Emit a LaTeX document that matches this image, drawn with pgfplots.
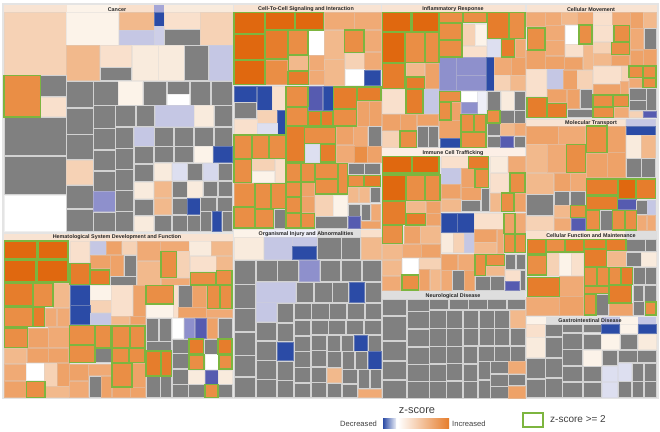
\documentclass[border=0pt]{standalone}
\usepackage{pgfplots}
\usepackage{fontspec}
\setmainfont{Liberation Sans}
\pgfplotsset{compat=1.18}
\definecolor{o1}{HTML}{E0680F}\definecolor{o2}{HTML}{E67D2C}\definecolor{o3}{HTML}{EA8E45}
\definecolor{o4}{HTML}{EEA268}\definecolor{oa}{HTML}{F0AA75}\definecolor{o5}{HTML}{F2B98C}
\definecolor{o6}{HTML}{F6D2B5}\definecolor{o7}{HTML}{F9E0CC}\definecolor{o8}{HTML}{FCF3E9}
\definecolor{c1}{HTML}{F9EBDD}\definecolor{gr}{HTML}{808080}
\definecolor{b1}{HTML}{2B4BA6}\definecolor{b2}{HTML}{565BB0}\definecolor{b3}{HTML}{8E90CC}
\definecolor{b4}{HTML}{C5C7E4}\definecolor{b5}{HTML}{DDDFF0}
\definecolor{gap}{HTML}{D2D2D2}\definecolor{grn}{HTML}{7DB53F}\definecolor{hd}{HTML}{DEDEDE}
\definecolor{hp}{HTML}{F8E3D2}
\def\R#1#2#3#4#5{\addplot[fill=#5,draw=#5!65!gap,line width=.5pt] coordinates {(#1,#2)(#3,#2)(#3,#4)(#1,#4)} --cycle;}
\def\K#1#2#3#4{\addplot[fill=gr,draw=gap,line width=.6pt] coordinates {(#1,#2)(#3,#2)(#3,#4)(#1,#4)} --cycle;}
\def\G#1#2#3#4#5{\addplot[fill=#5,draw=grn,line width=1.3pt] coordinates {(#1,#2)(#3,#2)(#3,#4)(#1,#4)} --cycle;}
\def\H#1#2#3#4#5{\addplot[fill=#5,draw=none] coordinates {(#1,#2)(#3,#2)(#3,#4)(#1,#4)} --cycle;}
\pgfplotsset{base/.style={width=660pt,height=431pt,scale only axis,hide axis,y dir=reverse,at={(0,0)},anchor=south west,clip=false},
 panel/.style n args={4}{base,xmin=#1,xmax=#2,ymin=#3,ymax=#4}}
\begin{document}
\begin{tikzpicture}
\begin{axis}[panel={0}{660}{0}{431}]
\H{0}{0}{660}{431}{white}
\H{2}{3}{659}{399}{gap!60!white}
\end{axis}
% Cancer
\begin{axis}[panel={0}{1980}{0}{1293}]
\H{12}{14}{200}{37}{hp}\H{200}{14}{357}{37}{o8}\H{357}{14}{462}{37}{o7}\H{462}{14}{492}{37}{b3!80!white}\H{492}{14}{698}{37}{c1}
\R{12}{37}{200}{226}{o6}\R{200}{37}{356}{136}{o8}\R{357}{37}{462}{91}{o5}\R{462}{37}{492}{78}{b1}\R{357}{91}{464}{136}{b4}\R{464}{78}{493}{136}{b4!85!white}
\R{493}{37}{600}{89}{o7}\K{493}{89}{600}{136}\R{600}{37}{698}{136}{o6}\R{200}{137}{299}{241}{o5}\R{300}{137}{395}{202}{o7}\K{300}{202}{395}{241}
\R{397}{137}{475}{241}{c1}\R{476}{137}{553}{241}{c1}\K{554}{137}{626}{241}\R{627}{137}{698}{241}{b4}
\K{122}{227}{198}{289}\R{122}{291}{198}{350}{o7}\K{12}{352}{198}{467}\K{12}{469}{198}{584}\R{12}{586}{198}{694}{white}
\K{200}{243}{279}{323}\K{200}{325}{279}{402}\K{200}{404}{279}{478}\R{200}{480}{279}{553}{o6}\K{200}{555}{279}{625}\K{200}{627}{279}{694}
\K{281}{243}{354}{315}\K{281}{317}{345}{384}\K{281}{386}{345}{449}\K{281}{451}{345}{512}\K{281}{514}{345}{573}\R{281}{575}{345}{635}{b3}\K{281}{637}{345}{694}
\R{355}{243}{428}{315}{o8}\K{430}{243}{499}{315}\K{501}{243}{568}{282}\R{501}{283}{568}{315}{white}\K{570}{243}{632}{315}\K{634}{243}{696}{315}
\K{347}{317}{406}{380}\K{408}{317}{463}{380}\R{465}{317}{582}{380}{b4}\R{584}{317}{640}{380}{c1}\K{642}{317}{696}{380}
\K{347}{382}{401}{444}\R{402}{382}{462}{438}{b4}\K{464}{382}{521}{438}\K{523}{382}{580}{438}\K{582}{382}{640}{438}\K{642}{382}{696}{438}
\K{347}{446}{401}{507}\K{403}{440}{461}{491}\K{463}{440}{521}{487}\K{523}{440}{580}{487}\R{582}{440}{637}{487}{o8}\R{639}{440}{696}{487}{b1}
\K{347}{509}{401}{570}\K{403}{493}{461}{544}\R{463}{489}{514}{541}{c1}\R{516}{489}{561}{541}{b5}\K{563}{489}{608}{541}\R{610}{489}{654}{541}{b4!70!white}\K{656}{489}{696}{541}
\K{347}{572}{401}{633}\R{403}{546}{461}{596}{c1}\R{463}{543}{514}{592}{o5}\K{516}{543}{561}{592}\R{563}{543}{608}{592}{c1}\K{610}{543}{652}{590}\K{654}{543}{696}{590}
\K{347}{635}{401}{694}\K{403}{598}{461}{646}\R{463}{594}{514}{643}{o5}\K{516}{594}{561}{643}\R{563}{594}{600}{643}{b1}\K{602}{592}{650}{633}\K{652}{592}{696}{633}
\R{403}{648}{461}{694}{c1}\K{463}{645}{514}{694}\K{516}{645}{561}{694}\K{563}{645}{600}{694}\K{602}{635}{634}{694}\R{636}{635}{665}{694}{b1}\K{667}{635}{696}{694}
\G{12}{227}{122}{351}{o3}
\end{axis}
% Cell-to-cell
\begin{axis}[panel={-690}{1290}{0}{1293}]
\H{12}{14}{454}{37}{hp}
\R{284}{37}{372}{88}{oa}\R{372}{37}{454}{88}{oa}\R{234}{92}{282}{165}{white}\R{284}{90}{344}{178}{o5}\R{404}{90}{454}{155}{oa}\R{237}{165}{282}{210}{oa}
\R{284}{178}{344}{256}{o5}\R{345}{160}{402}{207}{o6}\R{404}{157}{454}{208}{oa}\R{345}{207}{402}{256}{white}\R{403}{210}{452}{256}{b1}\R{107}{180}{172}{254}{o3}\R{237}{210}{282}{254}{oa}
\R{12}{260}{80}{306}{b1}\R{81}{260}{127}{331}{b1}\R{128}{260}{167}{331}{o7}\K{12}{307}{80}{356}\R{81}{331}{142}{370}{o6}\R{143}{331}{166}{402}{b1}\R{12}{357}{81}{402}{o7}\R{82}{371}{142}{402}{b5}
\R{234}{260}{278}{332}{b2}\R{279}{260}{309}{332}{b1}\R{383}{303}{418}{378}{o4}\R{419}{303}{453}{378}{o4}
\R{225}{434}{269}{486}{b5}\R{318}{380}{370}{434}{o4}\R{371}{380}{413}{440}{oa}\K{414}{380}{453}{440}\R{318}{435}{372}{486}{oa}\R{373}{440}{412}{486}{o3}\R{413}{440}{453}{486}{o4}
\R{66}{477}{134}{512}{o6}\R{66}{513}{134}{547}{o8}\R{135}{477}{166}{547}{o7}\R{12}{550}{73}{619}{o3}\K{133}{629}{166}{684}
\R{215}{548}{254}{590}{o4}\R{215}{590}{254}{638}{o4}\R{256}{585}{310}{649}{o6}\R{311}{585}{352}{649}{o8}\K{256}{650}{352}{684}
\K{354}{490}{402}{523}\K{404}{490}{452}{523}\R{354}{563}{386}{608}{o5}\R{387}{563}{419}{608}{o5}\K{420}{563}{452}{608}
\K{354}{612}{392}{648}\K{394}{612}{422}{662}\R{423}{612}{452}{662}{oa}\R{354}{650}{392}{684}{b2}\R{394}{664}{452}{684}{o4}
\G{12}{37}{105}{100}{o1}\G{107}{37}{193}{90}{o1}\G{195}{37}{281}{90}{o1}\G{12}{102}{105}{180}{o1}\G{107}{92}{172}{177}{o2}\G{176}{92}{234}{165}{o3}\G{344}{90}{402}{157}{o3}
\G{176}{167}{236}{212}{o5}\G{12}{182}{105}{254}{o1}\G{174}{214}{236}{254}{o2}
\G{168}{260}{234}{319}{o3}\G{168}{321}{232}{378}{o3}\G{234}{334}{273}{378}{o2}\G{275}{334}{309}{378}{o2}\G{311}{261}{380}{325}{o2}\G{382}{261}{453}{301}{o2}\G{311}{327}{380}{378}{o3}
\G{168}{380}{224}{486}{o2}\G{224}{382}{316}{430}{o3}\G{271}{432}{316}{486}{o2}
\G{12}{405}{64}{475}{o3}\G{66}{405}{117}{475}{o3}\G{118}{405}{166}{475}{o3}\G{12}{477}{65}{547}{o3}
\G{75}{550}{122}{625}{o3}\G{124}{550}{166}{625}{o3}\G{12}{621}{73}{684}{o3}\G{75}{629}{131}{684}{o3}
\G{168}{490}{213}{546}{o3}\G{215}{490}{254}{546}{o3}\G{256}{490}{323}{535}{o3}\G{325}{490}{352}{582}{o3}\G{256}{537}{323}{582}{o3}
\G{168}{548}{213}{590}{o3}\G{168}{592}{213}{638}{o3}\G{168}{640}{211}{684}{o3}\G{213}{640}{254}{684}{o3}
\G{354}{527}{402}{560}{o3}\G{404}{527}{452}{560}{o2}
\end{axis}
% Inflammatory
\begin{axis}[panel={-1140}{840}{0}{1293}]
\H{6}{14}{436}{37}{hp}
\R{248}{72}{285}{137}{o6}\R{286}{72}{320}{137}{o8}\R{248}{138}{320}{171}{o7}\R{322}{118}{362}{171}{b5}\R{406}{118}{436}{171}{oa}
\R{78}{190}{134}{228}{o5}\R{135}{190}{177}{265}{o4}\R{178}{173}{229}{270}{b3}\R{229}{173}{318}{225}{b3}\R{229}{225}{318}{272}{b3}\R{318}{173}{342}{272}{b1}
\R{344}{173}{394}{226}{oa}\R{394}{173}{436}{226}{o4}\R{344}{226}{392}{272}{o6}\R{392}{226}{436}{272}{o5}
\R{8}{268}{76}{340}{o7}\R{131}{268}{176}{340}{b4}\R{215}{307}{241}{360}{o4}\R{243}{275}{292}{307}{white}\R{292}{275}{320}{340}{b5!50!white}\R{243}{308}{292}{340}{b3}
\K{322}{275}{362}{330}\R{363}{275}{403}{330}{c1}\K{404}{275}{436}{330}
\R{8}{342}{60}{392}{o4}\R{61}{342}{110}{392}{o4}\R{111}{342}{176}{377}{o4}\R{8}{393}{58}{443}{o6}\K{112}{378}{144}{443}\K{146}{378}{176}{443}
\R{178}{362}{241}{414}{o4}\R{180}{416}{241}{443}{b1}\K{362}{332}{402}{369}\K{403}{332}{436}{369}\K{322}{371}{360}{405}\R{362}{371}{402}{407}{o5}\R{403}{371}{436}{407}{oa}
\K{322}{408}{360}{443}\R{362}{408}{400}{443}{b2}\K{402}{408}{436}{443}
\G{8}{37}{93}{95}{o1}\G{97}{37}{176}{95}{o1}\G{178}{37}{248}{67}{o3}\G{250}{37}{320}{67}{o3}\G{8}{98}{74}{187}{o1}\G{76}{98}{133}{187}{o3}\G{135}{98}{177}{187}{o3}
\G{178}{70}{246}{120}{o3}\G{178}{122}{246}{171}{o3}\G{322}{37}{385}{115}{o2}\G{387}{37}{435}{115}{o3}\G{364}{118}{404}{171}{o2}
\G{8}{190}{75}{265}{o2}\G{78}{231}{134}{265}{o2}\G{78}{268}{129}{340}{o2}\G{178}{275}{241}{305}{o3}\G{178}{307}{213}{360}{o3}
\G{60}{393}{110}{443}{o3}\G{243}{343}{281}{396}{o3}\G{283}{343}{318}{396}{o3}\G{243}{398}{318}{443}{o3}\G{322}{332}{360}{369}{o3}
\end{axis}
% Cellular movement, molecular transport
\begin{axis}[panel={-1575}{405}{0}{1293}]
\H{5}{14}{395}{37}{hp}
\R{5}{37}{60}{80}{oa}\R{60}{37}{108}{75}{oa}\R{108}{37}{158}{72}{o5}\R{158}{37}{204}{72}{oa}\R{206}{37}{262}{75}{o7}\R{262}{37}{316}{75}{oa}\R{316}{37}{355}{85}{o4}\R{356}{37}{393}{85}{o5}
\R{62}{77}{118}{120}{oa}\R{62}{120}{118}{167}{oa}\R{120}{75}{160}{132}{white}\R{120}{133}{174}{170}{o7}\R{174}{135}{204}{207}{o5}\R{206}{77}{263}{125}{o7}\R{206}{126}{256}{160}{o6}\R{206}{161}{258}{196}{o5}\R{260}{165}{313}{196}{o4}
\R{316}{85}{355}{148}{oa}\K{357}{85}{393}{147}\R{316}{150}{355}{196}{o4}\R{356}{148}{393}{196}{o4}\R{5}{152}{60}{207}{o4}\R{60}{168}{118}{207}{o4}\R{119}{172}{173}{207}{o4}
\R{5}{209}{65}{290}{o7}\R{66}{209}{114}{267}{b4}\R{115}{210}{157}{267}{o4}\R{158}{210}{203}{267}{o6}\R{205}{198}{288}{250}{o7}\R{289}{198}{310}{250}{o6}\R{205}{252}{286}{282}{o4}\R{287}{245}{311}{282}{oa}
\R{312}{234}{352}{262}{oa}\R{66}{269}{125}{308}{o4}\R{126}{269}{164}{326}{o4}\K{165}{269}{203}{326}\K{127}{327}{203}{352}\R{267}{322}{310}{352}{oa}
\K{312}{264}{363}{301}\K{365}{264}{393}{332}\K{312}{302}{363}{332}\R{312}{334}{353}{352}{o6}\R{355}{334}{393}{352}{b2}
\R{5}{357}{302}{378}{hp}\R{303}{357}{392}{378}{b4}\R{303}{378}{392}{405}{b1}
\R{5}{378}{100}{432}{o4}\R{100}{378}{182}{432}{oa}\R{248}{378}{302}{457}{o4}\R{303}{407}{349}{474}{c1}\R{349}{407}{392}{474}{o5}
\R{5}{433}{67}{518}{o5}\R{68}{433}{124}{518}{oa}\R{184}{459}{247}{533}{o4}\R{247}{457}{302}{533}{o4}\K{303}{476}{349}{533}\K{350}{476}{392}{533}
\R{5}{520}{86}{582}{o5}\R{87}{520}{135}{573}{o4}\R{135}{520}{183}{573}{oa}\R{277}{597}{333}{628}{b2}\K{335}{601}{367}{643}\R{368}{601}{392}{643}{b4}
\K{5}{584}{85}{646}\K{87}{575}{134}{615}\K{135}{575}{182}{615}\R{87}{617}{135}{652}{o5}\R{5}{648}{85}{690}{o6}\R{87}{654}{137}{690}{oa}\R{139}{654}{182}{690}{b2}
\K{225}{632}{262}{690}\R{336}{645}{365}{690}{oa}\R{366}{645}{392}{690}{oa}
\G{8}{84}{60}{150}{o3}\G{162}{75}{201}{132}{o3}\G{267}{76}{313}{125}{o3}\G{259}{127}{313}{163}{o3}\G{312}{198}{354}{232}{o3}\G{356}{198}{393}{232}{o3}\G{354}{234}{393}{262}{o3}
\G{6}{292}{66}{352}{o2}\G{67}{310}{125}{352}{o2}\G{204}{285}{263}{320}{o3}\G{265}{285}{310}{320}{o3}\G{204}{322}{265}{352}{o3}
\G{184}{378}{246}{457}{o3}\G{125}{433}{182}{518}{o3}\G{185}{537}{277}{585}{o2}\G{279}{537}{333}{595}{o1}\G{335}{537}{392}{595}{o2}\G{185}{588}{277}{628}{o2}\G{137}{617}{182}{652}{o3}
\G{184}{632}{224}{690}{o3}\G{263}{632}{298}{690}{o3}\G{300}{632}{334}{690}{o3}
\end{axis}
% Immune
\begin{axis}[panel={-1140}{840}{-435}{858}]
\H{6}{10}{436}{35}{o7!50!white}
\R{183}{35}{264}{70}{o7}\R{330}{35}{382}{82}{c1}\R{384}{35}{436}{82}{oa}\R{183}{71}{242}{117}{b4}\R{243}{71}{283}{127}{o4}\R{183}{118}{242}{160}{o4}\R{243}{127}{303}{165}{o4}\K{303}{129}{328}{200}
\R{183}{162}{243}{200}{o5}\K{244}{166}{302}{200}\R{330}{84}{386}{142}{o7}\R{330}{144}{362}{200}{o5}\R{404}{144}{436}{200}{o4}
\R{80}{170}{137}{204}{o5}\R{138}{170}{180}{204}{o4}\R{140}{206}{180}{240}{o4}\R{183}{205}{232}{262}{b1}\R{233}{205}{282}{262}{b1}\R{284}{205}{370}{252}{o7}\R{406}{205}{436}{265}{oa}
\R{72}{243}{121}{296}{o4}\R{122}{243}{180}{296}{o5}\R{183}{264}{220}{323}{c1}\R{221}{264}{252}{323}{o6}\R{253}{264}{282}{323}{b4}\R{284}{254}{350}{292}{o4}\R{351}{254}{370}{325}{oa}\R{284}{293}{350}{325}{o5}
\R{8}{298}{67}{344}{o5}\R{68}{298}{123}{338}{oa}\R{124}{298}{180}{338}{o4}\R{8}{346}{65}{392}{o5}\R{67}{340}{116}{387}{white}\R{117}{340}{180}{372}{o6}
\R{8}{393}{62}{435}{oa}\R{118}{373}{148}{435}{o4}\R{150}{373}{180}{435}{o5}\R{183}{327}{233}{376}{o4}\R{234}{327}{282}{376}{oa}
\R{183}{377}{217}{435}{oa}\K{218}{377}{252}{435}\R{253}{377}{282}{435}{o4}\R{320}{364}{374}{392}{o5}\K{285}{394}{330}{435}\K{331}{394}{374}{435}
\K{377}{329}{406}{374}\K{408}{329}{436}{374}\R{377}{376}{420}{408}{o7}\K{421}{376}{436}{435}\R{377}{410}{418}{435}{b2}
\G{8}{35}{95}{84}{o1}\G{98}{35}{177}{84}{o1}\G{266}{35}{325}{70}{o2}\G{8}{90}{76}{166}{o1}\G{78}{90}{134}{166}{o3}\G{136}{90}{180}{166}{o3}\G{285}{73}{325}{127}{o3}
\G{390}{84}{435}{142}{o3}\G{365}{144}{402}{200}{o3}\G{8}{169}{76}{238}{o2}\G{78}{206}{137}{240}{o2}\G{372}{205}{405}{265}{o4}\G{8}{242}{68}{296}{o3}
\G{373}{267}{404}{323}{o3}\G{406}{267}{436}{323}{o3}\G{66}{390}{116}{435}{o3}\G{285}{329}{317}{392}{o3}\G{319}{329}{374}{362}{o3}
\end{axis}
% Hematological
\begin{axis}[panel={0}{1980}{-690}{603}]
\H{12}{12}{698}{32}{hp}
\R{210}{33}{269}{97}{o7}\R{270}{33}{318}{74}{b4}\R{319}{33}{365}{74}{o4}\R{366}{33}{408}{74}{o6}\R{270}{75}{330}{115}{o4}\R{331}{75}{370}{138}{o4}\K{372}{75}{408}{138}\K{330}{140}{408}{165}
\R{411}{33}{481}{92}{oa}\R{482}{33}{568}{64}{oa}\R{569}{33}{633}{76}{c1}\R{634}{33}{696}{76}{o5}\R{411}{93}{481}{165}{o5}\R{533}{65}{568}{143}{o6}\R{483}{145}{568}{165}{oa}
\R{570}{78}{648}{124}{o7}\R{649}{78}{696}{120}{o5}\R{161}{160}{207}{232}{o5}
\R{210}{167}{270}{226}{b1}\R{270}{167}{333}{210}{o8}\R{270}{211}{333}{248}{o6}\R{210}{226}{270}{282}{b1}\R{270}{249}{333}{282}{b4}
\R{335}{167}{398}{259}{o7}\R{399}{167}{435}{259}{o4}\R{335}{260}{389}{282}{o5}\R{390}{260}{435}{282}{o4}
\R{438}{224}{520}{262}{o8}\R{521}{167}{535}{262}{o7}\K{536}{167}{577}{231}\R{578}{167}{620}{233}{o4}\R{536}{233}{620}{262}{o4}\R{620}{238}{696}{262}{oa}
\R{136}{234}{170}{290}{oa}\R{171}{234}{207}{290}{oa}\R{84}{294}{145}{352}{o4}\R{146}{292}{207}{352}{oa}
\R{14}{354}{80}{401}{o5}\R{81}{354}{145}{397}{o4}\R{146}{354}{205}{397}{o4}\R{14}{403}{78}{452}{oa}\R{80}{400}{133}{452}{white}\R{134}{400}{171}{468}{o6}\R{172}{400}{207}{468}{o4}
\R{14}{454}{78}{503}{o4}\R{136}{470}{207}{503}{o5}\K{287}{356}{333}{398}
\R{208}{402}{265}{452}{o4}\R{266}{402}{333}{437}{oa}\R{208}{454}{265}{503}{oa}\K{267}{439}{303}{503}\R{304}{439}{333}{503}{o4}
\R{398}{400}{435}{472}{o4}\R{336}{473}{391}{503}{o4}\R{392}{473}{435}{503}{o4}
\K{438}{264}{476}{333}\K{477}{264}{514}{333}\K{438}{334}{514}{361}\K{438}{440}{480}{503}\K{481}{440}{514}{503}
\R{516}{264}{551}{325}{white}\R{552}{264}{584}{325}{b3}\R{585}{264}{620}{325}{b2}\R{621}{264}{653}{325}{o4}\K{655}{264}{696}{325}
\K{516}{327}{565}{369}\K{612}{327}{652}{372}\K{516}{371}{565}{416}\R{616}{374}{655}{418}{white}
\K{516}{418}{565}{462}\R{566}{421}{614}{462}{c1}\R{615}{420}{655}{462}{b2}\R{656}{420}{696}{462}{c1}\K{516}{464}{565}{503}\K{566}{464}{613}{503}\K{656}{464}{696}{503}
\G{14}{33}{111}{87}{o1}\G{115}{33}{204}{87}{o1}\G{14}{92}{108}{156}{o1}\G{112}{92}{204}{156}{o1}\G{210}{100}{270}{163}{o2}\G{272}{120}{328}{163}{o2}
\G{483}{65}{530}{143}{o3}\G{572}{127}{647}{165}{o3}\G{650}{122}{696}{165}{o3}\G{14}{160}{97}{228}{o2}\G{101}{160}{159}{230}{o3}
\G{438}{167}{521}{222}{o3}\G{622}{167}{660}{236}{o3}\G{662}{167}{696}{236}{o3}\G{14}{232}{97}{290}{o3}\G{99}{232}{134}{290}{o2}\G{14}{294}{82}{352}{o3}\G{80}{454}{135}{503}{o3}
\G{208}{286}{284}{343}{o3}\G{286}{286}{333}{354}{o3}\G{336}{288}{389}{352}{o3}\G{391}{288}{435}{352}{o3}\G{208}{346}{285}{398}{o3}\G{336}{354}{387}{398}{o3}\G{389}{354}{435}{398}{o3}
\G{336}{400}{396}{471}{o3}\G{438}{363}{482}{438}{o2}\G{484}{363}{514}{438}{o2}\G{567}{327}{610}{372}{o2}\G{654}{327}{696}{372}{o2}\G{567}{375}{612}{419}{o3}\G{657}{375}{696}{417}{o3}\G{615}{464}{654}{503}{o3}
\end{axis}
% Organismal
\begin{axis}[panel={-690}{1290}{-675}{618}]
\H{12}{14}{100}{37}{o8}\H{100}{14}{262}{37}{b5!50!white}\H{262}{14}{392}{37}{hd}\H{392}{14}{454}{37}{o7}
\R{12}{38}{100}{104}{c1}\R{102}{38}{188}{104}{b4}\R{188}{38}{262}{64}{b4}\R{188}{65}{260}{104}{b1}\K{263}{38}{333}{104}\K{335}{38}{392}{104}\R{394}{38}{454}{104}{o5}
\K{12}{107}{76}{177}\K{78}{107}{141}{169}\K{143}{107}{205}{169}\R{207}{107}{269}{169}{b3}\K{271}{107}{331}{169}\K{333}{107}{394}{169}\K{396}{107}{454}{169}
\K{12}{179}{76}{249}\R{78}{171}{196}{232}{b4}\R{78}{232}{140}{290}{b4}\K{198}{171}{251}{232}\K{253}{171}{306}{232}\K{308}{171}{355}{232}\R{357}{171}{403}{232}{b1}\K{405}{171}{454}{232}
\K{142}{234}{190}{292}\K{192}{234}{243}{283}\K{245}{234}{297}{283}\K{299}{234}{350}{283}\K{352}{234}{403}{283}\K{405}{234}{454}{283}
\K{12}{251}{76}{320}\K{78}{292}{140}{347}\K{142}{294}{190}{350}\K{192}{285}{241}{331}\K{243}{285}{294}{328}\K{296}{285}{346}{328}\K{348}{285}{400}{328}\K{402}{285}{454}{328}
\K{12}{322}{76}{390}\K{78}{349}{140}{405}\R{142}{351}{190}{407}{b1}\K{192}{333}{241}{378}\K{243}{330}{289}{375}\K{291}{330}{331}{378}\K{333}{330}{371}{378}\R{373}{330}{412}{378}{b1}\K{414}{330}{454}{378}
\K{12}{392}{76}{455}\K{78}{407}{140}{462}\K{142}{409}{190}{465}\K{192}{380}{241}{426}\K{243}{377}{289}{424}\K{291}{380}{334}{428}\K{336}{380}{373}{432}\K{375}{380}{413}{432}\R{415}{380}{454}{432}{b1}
\K{12}{457}{76}{518}\K{78}{464}{140}{518}\K{142}{467}{190}{518}\K{192}{428}{241}{473}\K{243}{426}{289}{471}\R{291}{430}{334}{473}{o5}\K{336}{434}{382}{475}\K{384}{434}{418}{490}\K{420}{434}{454}{490}
\K{192}{475}{241}{518}\K{243}{473}{289}{518}\K{291}{475}{334}{518}\K{336}{477}{382}{518}\R{384}{492}{454}{518}{oa}
\end{axis}
% Neurological
\begin{axis}[panel={-1140}{840}{-855}{438}]
\H{6}{18}{436}{42}{hd}
\K{8}{43}{78}{92}\K{81}{43}{147}{78}\K{149}{43}{205}{74}\K{207}{43}{264}{74}\K{266}{43}{321}{74}\K{323}{43}{380}{74}\K{382}{43}{436}{74}
\K{8}{95}{78}{166}\K{81}{80}{147}{131}\K{149}{76}{198}{129}\K{200}{76}{247}{129}\K{249}{76}{295}{129}\K{297}{76}{342}{129}\K{344}{76}{388}{129}\R{390}{76}{436}{129}{o5}
\K{8}{168}{78}{226}\K{81}{134}{147}{185}\K{149}{131}{198}{183}\K{200}{131}{247}{183}\K{249}{131}{295}{181}\K{297}{131}{342}{181}\K{344}{131}{388}{181}\K{390}{131}{436}{181}
\K{8}{228}{78}{284}\K{81}{187}{147}{237}\K{149}{185}{198}{236}\K{200}{185}{247}{234}\K{249}{183}{292}{236}\K{294}{183}{342}{228}\K{344}{183}{390}{228}\K{392}{183}{436}{228}
\K{8}{286}{78}{340}\K{81}{239}{147}{288}\K{149}{238}{198}{288}\K{200}{236}{247}{286}\K{249}{238}{292}{288}\K{294}{230}{330}{283}\K{332}{230}{384}{266}\R{386}{230}{436}{266}{oa}
\K{81}{290}{147}{340}\K{149}{290}{198}{340}\K{200}{288}{247}{340}\K{249}{290}{292}{340}\K{294}{285}{330}{340}\K{332}{268}{384}{303}\K{386}{268}{436}{302}\K{332}{305}{384}{340}\R{386}{304}{436}{340}{o4}
\end{axis}
% Cellular function, GI
\begin{axis}[panel={-1575}{405}{-675}{618}]
\H{5}{18}{65}{42}{o7}\H{65}{18}{300}{42}{c1}\H{300}{18}{395}{42}{hd}
\K{304}{43}{360}{80}\K{361}{43}{393}{80}\R{67}{85}{102}{152}{o6}\R{103}{85}{138}{152}{o8}\R{139}{85}{175}{152}{o7}\R{246}{80}{303}{124}{o5}\K{304}{81}{348}{124}\R{350}{81}{393}{124}{c1}
\R{104}{155}{176}{215}{oa}\K{326}{126}{361}{179}\K{362}{126}{393}{179}\R{5}{218}{103}{270}{oa}\R{104}{215}{176}{270}{o4}\K{214}{207}{250}{270}\R{252}{236}{322}{270}{o4}
\K{324}{181}{356}{228}\K{358}{181}{393}{228}\K{324}{230}{359}{270}
\H{5}{275}{62}{297}{o8}\H{62}{275}{230}{297}{hd}\H{230}{275}{284}{297}{b4}\H{284}{275}{340}{297}{o8}\H{340}{275}{393}{297}{b4}
\R{5}{298}{60}{337}{o7}\K{62}{298}{111}{335}\K{113}{298}{172}{323}\K{174}{298}{228}{323}\R{230}{298}{284}{325}{b1}\R{285}{298}{338}{325}{o8}\R{340}{298}{393}{325}{b1}
\R{5}{338}{60}{398}{c1}\K{62}{337}{111}{397}\K{113}{325}{172}{372}\K{174}{327}{228}{373}\R{230}{327}{284}{373}{o8}\K{286}{327}{338}{373}\R{340}{327}{393}{373}{c1}
\K{5}{400}{60}{460}\K{62}{399}{111}{458}\K{113}{374}{172}{421}\R{174}{375}{229}{423}{o8}\K{231}{375}{277}{421}\K{279}{375}{336}{413}\K{338}{375}{393}{413}
\K{5}{462}{60}{518}\K{62}{460}{111}{518}\K{113}{423}{172}{470}\K{174}{425}{229}{470}\R{231}{423}{277}{470}{b5}\R{279}{415}{320}{470}{b5}\K{322}{415}{356}{468}\K{358}{415}{393}{468}
\K{113}{472}{172}{518}\K{174}{472}{229}{518}\R{231}{472}{277}{518}{b5}\K{279}{470}{320}{518}\K{322}{470}{356}{518}\K{358}{470}{393}{518}
\G{7}{43}{63}{87}{o2}\G{65}{43}{120}{81}{o3}\G{122}{43}{175}{81}{o2}\G{178}{43}{243}{72}{o2}\G{245}{43}{303}{77}{o2}\G{8}{91}{65}{150}{o3}\G{178}{74}{245}{124}{o2}
\G{7}{157}{103}{215}{o2}\G{178}{127}{216}{181}{o3}\G{218}{127}{250}{181}{o3}\G{252}{127}{288}{179}{o3}\G{290}{127}{323}{179}{o2}\G{178}{183}{250}{205}{o3}\G{178}{207}{213}{270}{o3}\G{252}{182}{320}{234}{o2}\G{361}{231}{393}{270}{o3}
\end{axis}
% Labels and legend
\begin{axis}[panel={0}{660}{0}{431}]
\tikzset{hl/.style={font=\fontsize{5.4}{6}\selectfont\bfseries,text=black!85,inner sep=0pt}}
\node[hl] at (axis cs:117,9.3) {Cancer};
\node[hl] at (axis cs:306,9.3) {Cell-To-Cell Signaling and Interaction};
\node[hl] at (axis cs:453,9.3) {Inflammatory Response};
\node[hl] at (axis cs:591,9.3) {Cellular Movement};
\node[hl] at (axis cs:591,122.8) {Molecular Transport};
\node[hl] at (axis cs:453,153) {Immune Cell Trafficking};
\node[hl] at (axis cs:117,237) {Hematological System Development and Function};
\node[hl] at (axis cs:306,234) {Organismal Injury and Abnormalities};
\node[hl] at (axis cs:453,296) {Neurological Disease};
\node[hl] at (axis cs:591,236) {Cellular Function and Maintenance};
\node[hl] at (axis cs:590,321) {Gastrointestinal Disease};
\addplot[draw=none,left color=b1,right color=b1!10!white] coordinates {(383,418)(396,418)(396,428)(383,428)} --cycle;
\addplot[draw=none,left color=white,right color=o2] coordinates {(398,418)(449,418)(449,428)(398,428)} --cycle;
\addplot[draw=grn,line width=1.2pt,fill=white] coordinates {(523,413)(543,413)(543,427)(523,427)} --cycle;
\tikzset{lg/.style={inner sep=0pt,text=black!75}}
\node[lg,font=\fontsize{11}{12}\selectfont] at (axis cs:417,410.5) {z-score};
\node[lg,font=\fontsize{7.6}{9}\selectfont,anchor=west] at (axis cs:340,424) {Decreased};
\node[lg,font=\fontsize{7.6}{9}\selectfont,anchor=west] at (axis cs:452,424) {Increased};
\node[lg,font=\fontsize{10}{12}\selectfont,anchor=west] at (axis cs:550,419.5) {z-score >= 2};
\end{axis}
\end{tikzpicture}
\end{document}
